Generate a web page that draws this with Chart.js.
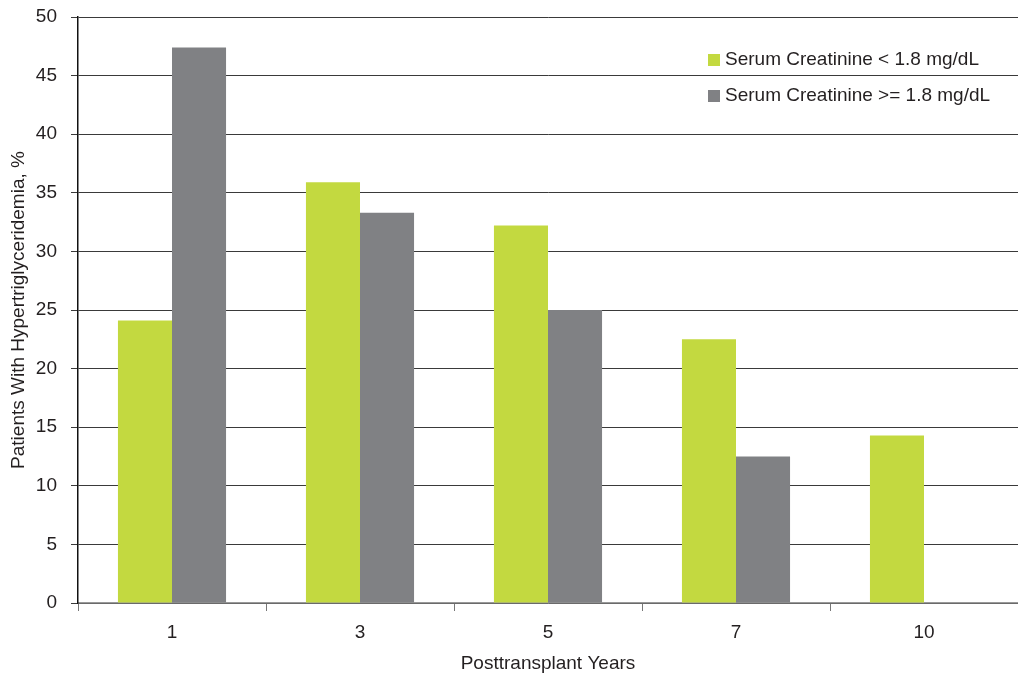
<!DOCTYPE html>
<html>
<head>
<meta charset="utf-8">
<script src="https://cdn.jsdelivr.net/npm/chart.js@4.4.0/dist/chart.umd.min.js"></script>
<style>
  html, body { margin: 0; padding: 0; background: #fff; }
  #wrap { width: 1018px; height: 675px; position: relative; }
</style>
</head>
<body>
<div id="wrap"><canvas id="chart" width="1018" height="675"></canvas></div>
<script>
// Posttransplant years and share of patients with hypertriglyceridemia
const years = ["1", "3", "5", "7", "10"];
const lowCreatinine = [24.1, 35.9, 32.2, 22.5, 14.3];
const highCreatinine = [47.4, 33.3, 25.0, 12.5, null];
const yTicks = [0, 5, 10, 15, 20, 25, 30, 35, 40, 45, 50];

const FONT = "'Liberation Sans', Arial, sans-serif";
const TEXT = "#231f20";

// legend drawn inside the plot, top right
const innerLegend = {
  id: "innerLegend",
  afterDraw(chart) {
    const ctx = chart.ctx;
    ctx.save();
    ctx.font = "19px " + FONT;
    ctx.textBaseline = "middle";
    chart.data.datasets.forEach((ds, i) => {
      const y = 60 + i * 36;
      ctx.fillStyle = ds.backgroundColor;
      ctx.fillRect(708, y - 6, 12, 12);
      ctx.fillStyle = TEXT;
      ctx.fillText(ds.label, 725, y);
    });
    ctx.restore();
  }
};

const chart = new Chart("chart", {
  type: "bar",
  data: {
    labels: years,
    datasets: [
      {
        label: "Serum Creatinine < 1.8 mg/dL",
        data: lowCreatinine,
        backgroundColor: "#c3d940",
        borderWidth: 0
      },
      {
        label: "Serum Creatinine >= 1.8 mg/dL",
        data: highCreatinine,
        backgroundColor: "#808184",
        borderWidth: 0
      }
    ]
  },
  options: {
    responsive: false,
    animation: false,
    layout: { padding: { top: 17, right: 0, left: 0, bottom: 0 } },
    datasets: {
      bar: { categoryPercentage: 0.575, barPercentage: 1.0 }
    },
    plugins: {
      legend: { display: false },
      tooltip: { enabled: false }
    },
    scales: {
      x: {
        grid: {
          offset: true,
          drawOnChartArea: false,
          color: "#777",
          tickLength: 8
        },
        border: { color: "#999", width: 1.5 },
        ticks: {
          color: TEXT,
          font: { family: FONT, size: 19 },
          padding: 10
        },
        title: {
          display: true,
          text: "Posttransplant Years",
          color: TEXT,
          font: { family: FONT, size: 19 },
          padding: { top: 4, bottom: 0 }
        },
        afterFit(scale) {
          scale.height = 72;
          scale.paddingLeft = 0;
          scale.paddingRight = 0;
        }
      },
      y: {
        min: 0,
        max: 50,
        afterBuildTicks(scale) {
          scale.ticks = yTicks.map(v => ({ value: v }));
        },
        grid: {
          color: "#3a3a3a",
          lineWidth: 1,
          tickLength: 7
        },
        border: { color: "#111", width: 1.5 },
        ticks: {
          autoSkip: false,
          color: TEXT,
          font: { family: FONT, size: 19 },
          padding: 14
        },
        title: {
          display: true,
          text: "Patients With Hypertriglyceridemia, %",
          color: TEXT,
          font: { family: FONT, size: 19 },
          padding: { top: 7, bottom: 0 }
        },
        afterFit(scale) {
          scale.width = 78;
          scale.paddingTop = 0;
          scale.paddingBottom = 0;
        }
      }
    }
  },
  plugins: [innerLegend]
});
</script>
</body>
</html>
